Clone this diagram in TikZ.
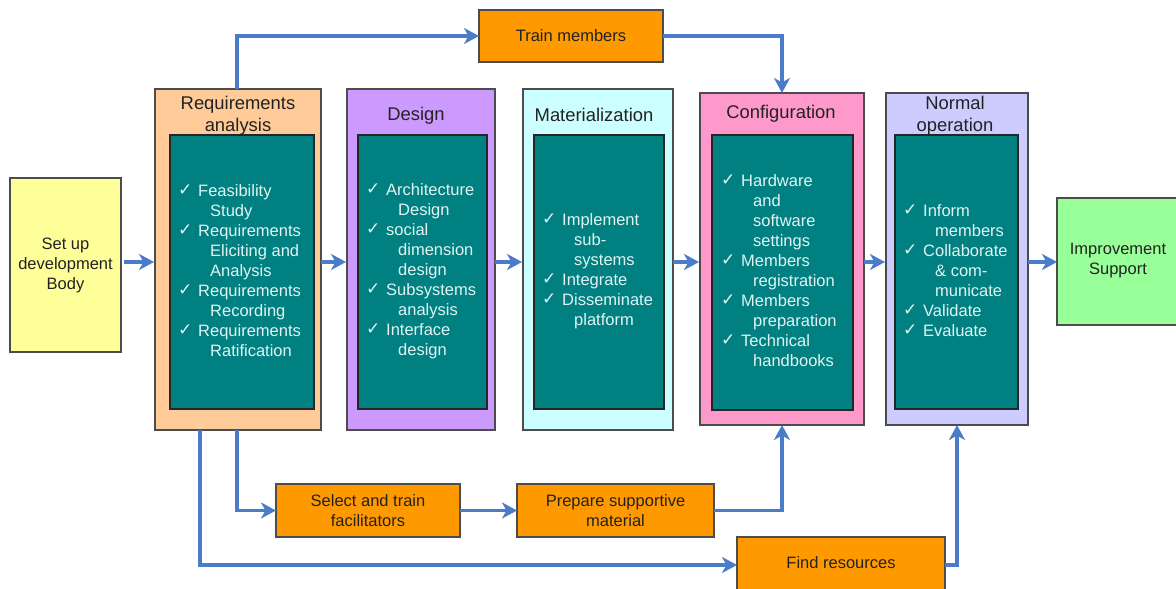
\documentclass[tikz,border=0pt]{standalone}
\usepackage{fontspec}
\setmainfont{Liberation Sans}
\newfontfamily\ckfont{DejaVu Sans}
\usetikzlibrary{arrows.meta}
\definecolor{cYel}{HTML}{FFFF99}
\definecolor{cPeach}{HTML}{FFCC99}
\definecolor{cPurp}{HTML}{CC99FF}
\definecolor{cCyan}{HTML}{CCFFFF}
\definecolor{cPink}{HTML}{FF99CC}
\definecolor{cLav}{HTML}{CCCCFF}
\definecolor{cGreen}{HTML}{99FF99}
\definecolor{cOrange}{HTML}{FF9900}
\definecolor{cTeal}{HTML}{008080}
\definecolor{cArr}{HTML}{4A7CC9}
\definecolor{cTxt}{HTML}{E2F4F4}
\definecolor{cDark}{HTML}{222222}
\newcommand\ci[1]{\makebox[20pt][l]{\raisebox{1pt}{\ckfont\fontsize{17}{15}\selectfont ✓}}#1}
\newcommand\cc[1]{\hspace*{32pt}#1}
\begin{document}
\begin{tikzpicture}[x=1pt,y=-1pt,
  box/.style={draw=black!70, line width=1.2pt, anchor=north west, inner sep=0pt, outer sep=0pt,
    text=cDark, align=center, font=\fontsize{16.5}{20}\selectfont},
  inbox/.style={draw=black!85, line width=1.2pt, fill=cTeal, anchor=north west, inner sep=0pt, outer sep=0pt},
  ttl/.style={text=cDark, align=center, inner sep=0pt, font=\fontsize{18.4}{22}\selectfont},
  lst/.style={text=cTxt, align=left, anchor=west, inner sep=0pt, font=\fontsize{16.5}{20}\selectfont},
  lbl/.style={text=cDark, align=center, inner sep=0pt, font=\fontsize{16.5}{20}\selectfont},
  arr/.style={draw=cArr, line width=3.6pt, -{Stealth[length=15pt,width=16pt,inset=4.5pt]}}
]
\useasboundingbox[fill=white] (0,0) rectangle (1176,589);

% left and right boxes
\node[box, fill=cYel, minimum width=111pt, minimum height=174pt] (setup) at (10,178) {Set up\\development\\Body};
\node[box, fill=cGreen, minimum width=125pt, minimum height=127pt] (impr) at (1057,198) {};
\node[lbl] (imprT) at (1118,261) {Improvement\\Support};

% phase boxes
\node[box, fill=cPeach, minimum width=166pt, minimum height=341pt] (req) at (155,89) {};
\node[inbox, minimum width=144pt, minimum height=274pt] (reqI) at (170,135) {};
\node[ttl] (reqT) at (238,116) {Requirements\\analysis};
\node[lst] (reqL) at (178,271) {\ci{Feasibility}\\\cc{Study}\\\ci{Requirements}\\\cc{Eliciting and}\\\cc{Analysis}\\\ci{Requirements}\\\cc{Recording}\\\ci{Requirements}\\\cc{Ratification}};

\node[box, fill=cPurp, minimum width=148pt, minimum height=341pt] (des) at (347,89) {};
\node[inbox, minimum width=129pt, minimum height=274pt] (desI) at (358,135) {};
\node[ttl] (desT) at (416,116) {Design};
\node[lst] (desL) at (366,271) {\ci{Architecture}\\\cc{Design}\\\ci{social}\\\cc{dimension}\\\cc{design}\\\ci{Subsystems}\\\cc{analysis}\\\ci{Interface}\\\cc{design}};

\node[box, fill=cCyan, minimum width=150pt, minimum height=341pt] (mat) at (523,89) {};
\node[inbox, minimum width=130pt, minimum height=274pt] (matI) at (534,135) {};
\node[ttl] (matT) at (594,115) {Materialization};
\node[lst] (matL) at (542,271) {\ci{Implement}\\\cc{sub-}\\\cc{systems}\\\ci{Integrate}\\\ci{Disseminate}\\\cc{platform}};

\node[box, fill=cPink, minimum width=164pt, minimum height=332pt] (conf) at (700,93) {};
\node[inbox, minimum width=141pt, minimum height=275pt] (confI) at (712,135) {};
\node[ttl] (confT) at (781,114) {Configuration};
\node[lst] (confL) at (721,271) {\ci{Hardware}\\\cc{and}\\\cc{software}\\\cc{settings}\\\ci{Members}\\\cc{registration}\\\ci{Members}\\\cc{preparation}\\\ci{Technical}\\\cc{handbooks}};

\node[box, fill=cLav, minimum width=142pt, minimum height=332pt] (norm) at (886,93) {};
\node[inbox, minimum width=123pt, minimum height=274pt] (normI) at (895,135) {};
\node[ttl] (normT) at (955,116) {Normal\\operation};
\node[lst] (normL) at (903,271) {\ci{Inform}\\\cc{members}\\\ci{Collaborate}\\\cc{\&~com-}\\\cc{municate}\\\ci{Validate}\\\ci{Evaluate}};

% orange boxes
\node[box, fill=cOrange, minimum width=184pt, minimum height=52pt] (train) at (479,10) {Train members};
\node[box, fill=cOrange, minimum width=184pt, minimum height=53pt] (sel) at (276,484) {Select and train\\facilitators};
\node[box, fill=cOrange, minimum width=197pt, minimum height=53pt] (prep) at (517,484) {Prepare supportive\\material};
\node[box, fill=cOrange, minimum width=208pt, minimum height=56pt] (find) at (737,537) {};
\node[lbl] (findT) at (841,563) {Find resources};

% connectors
\coordinate (row) at (0,262);
\draw[arr, shorten <=3pt, shorten >=1pt] (setup.east |- row) -- (req.west |- row);
\draw[arr, shorten >=1pt] (req.east |- row) -- (des.west |- row);
\draw[arr, shorten >=1pt] (des.east |- row) -- (mat.west |- row);
\draw[arr, shorten >=1pt] (mat.east |- row) -- (conf.west |- row);
\draw[arr, shorten >=1pt] (conf.east |- row) -- (norm.west |- row);
\draw[arr] (norm.east |- row) -- (impr.west |- row);

\coordinate (rq1) at (237,0);
\coordinate (rq2) at (200,0);
\draw[arr] (req.north -| rq1) |- (train.west);
\draw[arr] (train.east) -| (conf.north);
\draw[arr] (req.south -| rq1) |- (sel.west);
\draw[arr] (req.south -| rq2) |- (find.west);
\draw[arr] (sel.east) -- (prep.west);
\draw[arr] (prep.east) -| (conf.south);
\draw[arr] (find.east) -| (norm.south);
\end{tikzpicture}
\end{document}
